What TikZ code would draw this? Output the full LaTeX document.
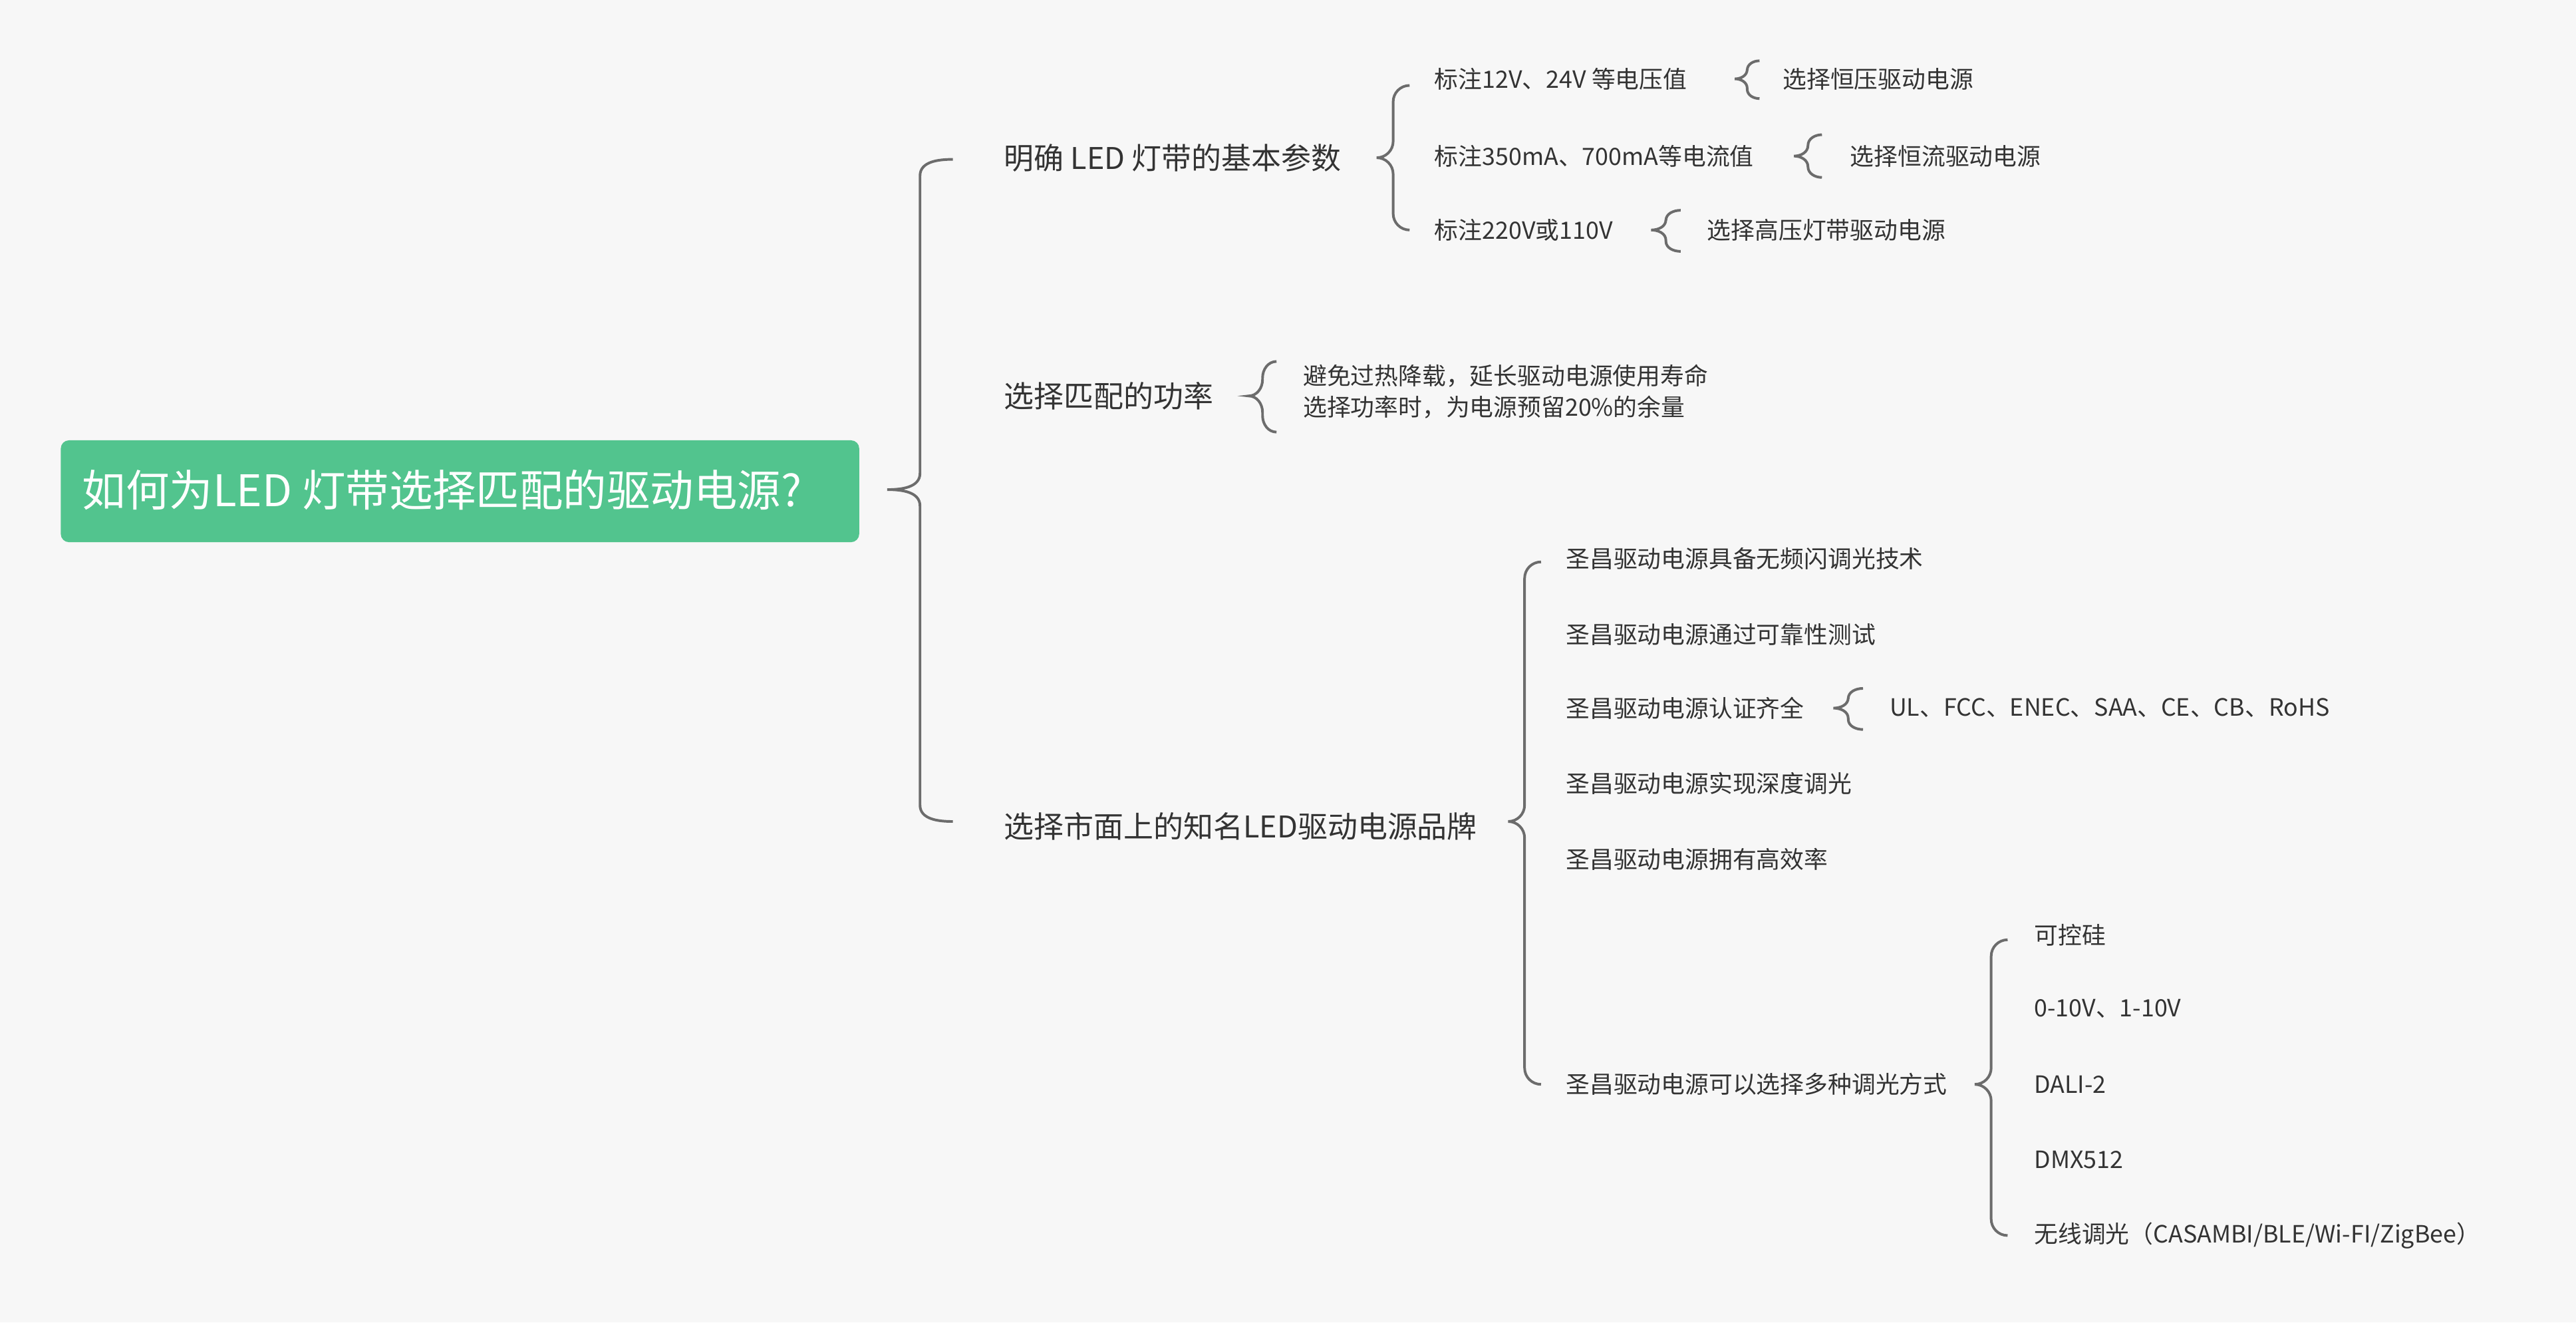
\documentclass[tikz,border=0pt]{standalone}
\usepackage{fontspec}
\setmainfont{Noto Sans CJK SC}
\begin{document}
\begin{tikzpicture}[x=1pt,y=-1pt,
  br/.style={draw=gray!85!black,line width=1.6pt},
  l1/.style={anchor=west,inner sep=0,font=\fontsize{18.2}{21}\selectfont,text=black!80},
  l2/.style={anchor=west,inner sep=0,font=\fontsize{14.5}{17}\selectfont,text=black!80}]
\newcommand{\mybrace}[5]{% tip x, mid y, end x, top y, bot y
  \pgfmathsetmacro{\br}{min(10,(#5-#4)/4)}
  \pgfmathsetmacro{\bxm}{(#1+#3)/2}\pgfmathsetmacro{\bya}{#4+\br}\pgfmathsetmacro{\byb}{#2-\br}
  \pgfmathsetmacro{\byc}{#2+\br}\pgfmathsetmacro{\byd}{#5-\br}
  \draw[br] (#3,#4) to[out=180,in=90] (\bxm,\bya) -- (\bxm,\byb) to[out=-90,in=0] (#1,#2)
    to[out=0,in=90] (\bxm,\byc) -- (\bxm,\byd) to[out=-90,in=180] (#3,#5);}
\fill[black!3] (0,0) rectangle (1568,805);
\useasboundingbox (0,0) rectangle (1568,805);
\fill[rounded corners=5pt,fill={rgb,255:red,82;green,196;blue,142}] (37,268) rectangle (523,330);
\node[anchor=west,inner sep=0,text=white,font=\fontsize{26.5}{30}\selectfont] (root) at (50,298) {如何为LED 灯带选择匹配的驱动电源?};
\mybrace{540}{298}{580}{97}{500}
\node[l1] (a) at (611,96) {明确 LED 灯带的基本参数};
\node[l1] (b) at (611,241) {选择匹配的功率};
\node[l1] (c) at (611,503) {选择市面上的知名LED驱动电源品牌};
\mybrace{838}{96}{858}{52}{140}
\node[l2] (a1) at (873,48) {标注12V、24V 等电压值};
\node[l2] (a2) at (873,95) {标注350mA、700mA等电流值};
\node[l2] (a3) at (873,140) {标注220V或110V};
\mybrace{1056}{48}{1071}{37}{60}
\mybrace{1092}{95}{1109}{82}{108}
\mybrace{1005}{140}{1023}{128}{153}
\node[l2] (a1x) at (1085,48) {选择恒压驱动电源};
\node[l2] (a2x) at (1126,95) {选择恒流驱动电源};
\node[l2] (a3x) at (1039,140) {选择高压灯带驱动电源};
\mybrace{760}{241}{777}{220}{263}
\node[l2] (b1) at (793,229) {避免过热降载，延长驱动电源使用寿命};
\node[l2] (b2) at (793,248) {选择功率时，为电源预留20\%的余量};
\mybrace{918}{500}{938}{342}{660}
\node[l2] (c1) at (953,340) {圣昌驱动电源具备无频闪调光技术};
\node[l2] (c2) at (953,386) {圣昌驱动电源通过可靠性测试};
\node[l2] (c3) at (953,431) {圣昌驱动电源认证齐全};
\node[l2] (c4) at (953,477) {圣昌驱动电源实现深度调光};
\node[l2] (c5) at (953,523) {圣昌驱动电源拥有高效率};
\node[l2] (c6) at (953,660) {圣昌驱动电源可以选择多种调光方式};
\mybrace{1116}{431}{1134}{419}{444}
\node[l2] (c3x) at (1150,431) {UL、FCC、ENEC、SAA、CE、CB、RoHS};
\mybrace{1202}{660}{1222}{572}{752}
\node[l2] (d1) at (1238,569) {可控硅};
\node[l2] (d2) at (1238,614) {0-10V、1-10V};
\node[l2] (d3) at (1238,660) {DALI-2};
\node[l2] (d4) at (1238,706) {DMX512};
\node[l2] (d5) at (1238,752) {无线调光（CASAMBI/BLE/Wi-FI/ZigBee）};
\end{tikzpicture}
\end{document}
